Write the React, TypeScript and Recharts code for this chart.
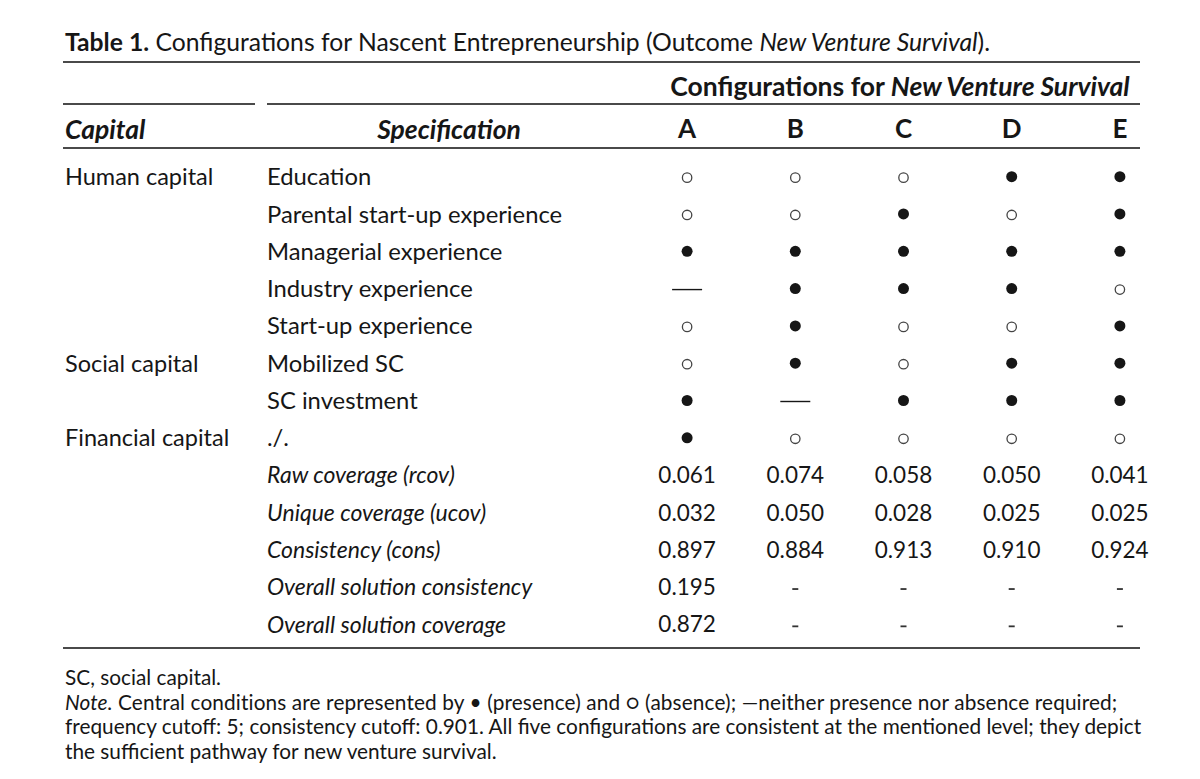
import { ScatterChart, Scatter, XAxis, YAxis } from 'recharts';

// configurations (columns)
const configs = ['A', 'B', 'C', 'D', 'E'];

// row labels
const capitals = ['Human capital', '', '', '', '', 'Social capital', '', 'Financial capital', '', '', '', '', ''];
const specs = [
  'Education',
  'Parental start-up experience',
  'Managerial experience',
  'Industry experience',
  'Start-up experience',
  'Mobilized SC',
  'SC investment',
  './.',
  'Raw coverage (rcov)',
  'Unique coverage (ucov)',
  'Consistency (cons)',
  'Overall solution consistency',
  'Overall solution coverage',
];
const italicFrom = 8;

// conditions: 1 = presence, 0 = absence, null = neither required
const condA = [0, 0, 1, null, 0, 0, 1, 1];
const condB = [0, 0, 1, 1, 1, 1, null, 0];
const condC = [0, 1, 1, 1, 0, 0, 1, 0];
const condD = [1, 0, 1, 1, 0, 1, 1, 0];
const condE = [1, 1, 1, 0, 1, 1, 1, 0];

const rawCoverage = ['0.061', '0.074', '0.058', '0.050', '0.041'];
const uniqueCoverage = ['0.032', '0.050', '0.028', '0.025', '0.025'];
const consistency = ['0.897', '0.884', '0.913', '0.910', '0.924'];
const overallConsistency = ['0.195', '-', '-', '-', '-'];
const overallCoverage = ['0.872', '-', '-', '-', '-'];

const FONT = 'Lato, "Open Sans", sans-serif';
const INK = '#161616';

const cells: { x: number; y: number; kind: string; label?: string }[] = [];
[condA, condB, condC, condD, condE].forEach((col, ci) => {
  col.forEach((v, ri) => {
    cells.push({ x: ci, y: ri, kind: v === null ? 'dash' : v === 1 ? 'full' : 'empty' });
  });
});
[rawCoverage, uniqueCoverage, consistency, overallConsistency, overallCoverage].forEach((row, k) => {
  row.forEach((v, ci) => {
    cells.push({ x: ci, y: 8 + k, kind: v === '-' ? 'hyphen' : 'num', label: v });
  });
});

const CellShape = (props: any) => {
  const { cx, cy, payload } = props;
  if (payload.kind === 'full') return <circle cx={cx} cy={cy} r={5.5} fill={INK} />;
  if (payload.kind === 'empty')
    return <circle cx={cx} cy={cy + 1} r={4.7} fill="none" stroke="#444" strokeWidth={1.3} />;
  if (payload.kind === 'dash')
    return <line x1={cx - 15} x2={cx + 15} y1={cy + 1} y2={cy + 1} stroke={INK} strokeWidth={1.4} />;
  if (payload.kind === 'hyphen')
    return <line x1={cx - 3} x2={cx + 3} y1={cy + 2} y2={cy + 2} stroke="#333" strokeWidth={1.8} />;
  return (
    <text x={cx} y={cy} dy="0.36em" textAnchor="middle" fontFamily={FONT} fontSize={22.5} fill={INK}>
      {payload.label}
    </text>
  );
};

const ColTick = (props: any) => {
  const { x, payload } = props;
  return (
    <text x={x} y={129} dy="0.36em" textAnchor="middle" fontFamily={FONT} fontSize={26} fontWeight={700} fill={INK}>
      {configs[payload.value]}
    </text>
  );
};

const RowTick = (props: any) => {
  const { y, payload } = props;
  const i = payload.value;
  return (
    <g>
      {capitals[i] && (
        <text x={65} y={y} dy="0.36em" fontFamily={FONT} fontSize={23.5} fill={INK}>
          {capitals[i]}
        </text>
      )}
      <text
        x={267}
        y={y}
        dy="0.36em"
        fontFamily={FONT}
        fontSize={i >= italicFrom ? 23 : 23.8}
        fill={INK}
        fontStyle={i >= italicFrom ? 'italic' : 'normal'}
      >
        {specs[i]}
      </text>
    </g>
  );
};

const rule = (top: number, left: number, right: number) => (
  <div style={{ position: 'absolute', top, left, width: right - left, height: 2, background: '#4a4a4a' }} />
);

const textLine = (top: number, children: any, extra: any = {}) => (
  <div style={{ position: 'absolute', top: top - 11, left: 65, height: 22, lineHeight: '22px', whiteSpace: 'nowrap', ...extra }}>
    {children}
  </div>
);

const head = { position: 'absolute' as const, fontSize: 26.5, fontWeight: 700, lineHeight: '30px' };
const note = { fontSize: 20.8 };

export default function App() {
  return (
    <div style={{ position: 'absolute', top: 0, left: 0, width: 1200, height: 779, background: '#fff', fontFamily: FONT, color: INK, overflow: 'hidden' }}>
      {textLine(42, <><b>Table 1.</b> Configurations for Nascent Entrepreneurship (Outcome <i>New Venture Survival</i>).</>, { fontSize: 24.7 })}
      {rule(61, 63, 1140)}
      <div style={{ ...head, top: 71, left: 600, width: 600, textAlign: 'center' }}>
        Configurations for <i>New Venture Survival</i>
      </div>
      {rule(103, 63, 255)}
      {rule(103, 267, 1140)}
      <div style={{ ...head, top: 114, left: 65, fontStyle: 'italic' }}>Capital</div>
      <div style={{ ...head, top: 114, left: 349, width: 200, textAlign: 'center', fontStyle: 'italic' }}>Specification</div>
      {rule(147, 63, 1140)}
      {rule(647, 63, 1140)}
      {textLine(677, 'SC, social capital.', note)}
      {textLine(702, <><i>Note.</i> Central conditions are represented by • (presence) and ○ (absence); —neither presence nor absence required;</>, { ...note, letterSpacing: 0.12 })}
      {textLine(726, 'frequency cutoff: 5; consistency cutoff: 0.901. All five configurations are consistent at the mentioned level; they depict', note)}
      {textLine(751, 'the sufficient pathway for new venture survival.', note)}
      <div style={{ position: 'absolute', top: 0, left: 0 }}>
        <ScatterChart width={1200} height={779} margin={{ top: 128, right: 26, bottom: 136, left: 0 }}>
          <XAxis
            type="number"
            dataKey="x"
            orientation="top"
            domain={[-0.5, 4.5]}
            ticks={[0, 1, 2, 3, 4]}
            height={30}
            axisLine={false}
            tickLine={false}
            tick={<ColTick />}
          />
          <YAxis
            type="number"
            dataKey="y"
            domain={[-0.5, 12.5]}
            ticks={specs.map((_, i) => i)}
            reversed
            width={633}
            axisLine={false}
            tickLine={false}
            tick={<RowTick />}
          />
          <Scatter data={cells} shape={CellShape} isAnimationActive={false} />
        </ScatterChart>
      </div>
    </div>
  );
}
